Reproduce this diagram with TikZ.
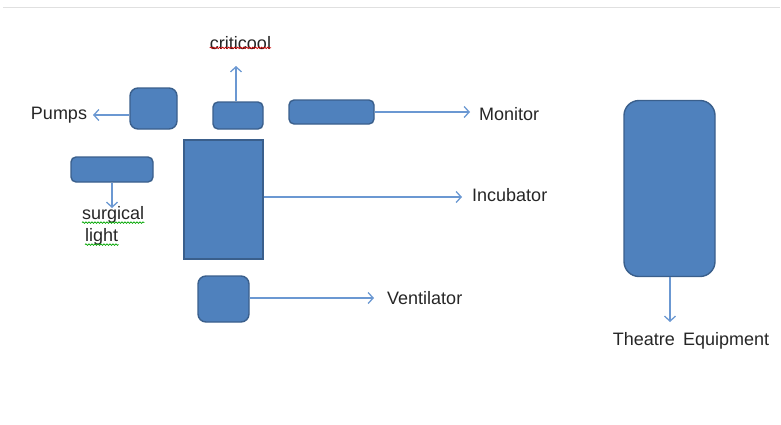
\documentclass[tikz,border=0pt]{standalone}
\usepackage{fontspec}
\setmainfont{Liberation Sans}
\usetikzlibrary{arrows.meta,decorations.pathmorphing}
\definecolor{boxfill}{HTML}{4F81BD}
\definecolor{boxline}{HTML}{3A5F8C}
\definecolor{arrowblue}{HTML}{6B98D2}
\definecolor{labeltext}{HTML}{262626}
\definecolor{rule}{HTML}{E0E0E0}
\tikzset{
  unit/.style={draw=boxline, fill=boxfill, line width=1.4pt, inner sep=0pt},
  ubox/.style={unit, rounded corners=#1},
  ubox/.default=5pt,
  link/.style={draw=arrowblue, line width=1.3pt, -{Straight Barb[length=5pt,width=11pt,line width=1.3pt]}},
  lbl/.style={text=labeltext, font=\fontsize{18}{21}\selectfont, inner sep=0pt},
  spellred/.style={draw=red!80!black, line width=0.7pt, decorate, decoration={snake, amplitude=0.8pt, segment length=3pt}},
  spellgreen/.style={draw=green!65!black, line width=0.7pt, decorate, decoration={snake, amplitude=0.8pt, segment length=3pt}}
}
\begin{document}
\begin{tikzpicture}[x=1pt,y=-1pt]
  \useasboundingbox (0,0) rectangle (781,424);
  % thin rule along the top
  \draw[rule, line width=1pt] (3,7) -- (780,7);

  % equipment blocks
  \node[ubox=8pt, minimum width=47pt, minimum height=41pt] (pumpbox) at (153.5,108.5) {};
  \node[ubox, minimum width=50pt, minimum height=27pt] (critbox) at (238,115.5) {};
  \node[ubox, minimum width=85pt, minimum height=24pt] (monbox) at (331.5,112) {};
  \node[ubox, minimum width=82pt, minimum height=25pt] (lightbox) at (112,169.5) {};
  \node[unit, minimum width=79pt, minimum height=119pt] (incbox) at (223.5,199.5) {};
  \node[ubox=8pt, minimum width=51pt, minimum height=46pt] (ventbox) at (223.5,299) {};
  \node[ubox=15pt, minimum width=91pt, minimum height=176pt] (theatrebox) at (669.5,188.5) {};

  % labels
  \node[lbl] (pumps) at (59,115) {Pumps};
  \node[lbl] (criticool) at (240.5,43) {criticool};
  \node[lbl, anchor=west] (monitor) at (479,114) {Monitor};
  \node[lbl, anchor=west] (incubator) at (472,195) {Incubator};
  \node[lbl, anchor=west] (ventilator) at (387,298) {Ventilator};
  \node[lbl, anchor=west] (surgical) at (82,215) {surgical};
  \node[lbl, anchor=west] (light) at (85,237) {light};
  \node[lbl] (theatre) at (691,341) {Theatre\hspace{0.45em}Equipment};

  % connectors
  \coordinate (pumpsend) at (93,115);
  \coordinate (critend) at (236,66);
  \coordinate (monend) at (470,112);
  \coordinate (lightend) at (112,208);
  \coordinate (incend) at (462,197);
  \coordinate (ventend) at (374,298);
  \coordinate (theatreend) at (670,322);
  \draw[link] (pumpbox.west |- pumpsend) -- (pumpsend);
  \draw[link] (critbox.north -| critend) -- (critend);
  \draw[link] (monbox.east) -- (monend);
  \draw[link] (lightbox.south) -- (lightend);
  \draw[link] (incbox.east |- incend) -- (incend);
  \draw[link] (ventbox.east |- ventend) -- (ventend);
  \draw[link] (theatrebox.south -| theatreend) -- (theatreend);

  % spelling marks under the labels
  \draw[spellred] ([yshift=2pt]criticool.south west) -- ([yshift=2pt]criticool.south east);
  \draw[spellgreen] ([yshift=1pt]surgical.south west) -- ([yshift=1pt]surgical.south east);
  \draw[spellgreen] ([yshift=1pt]light.south west) -- ([yshift=1pt]light.south east);
\end{tikzpicture}
\end{document}
